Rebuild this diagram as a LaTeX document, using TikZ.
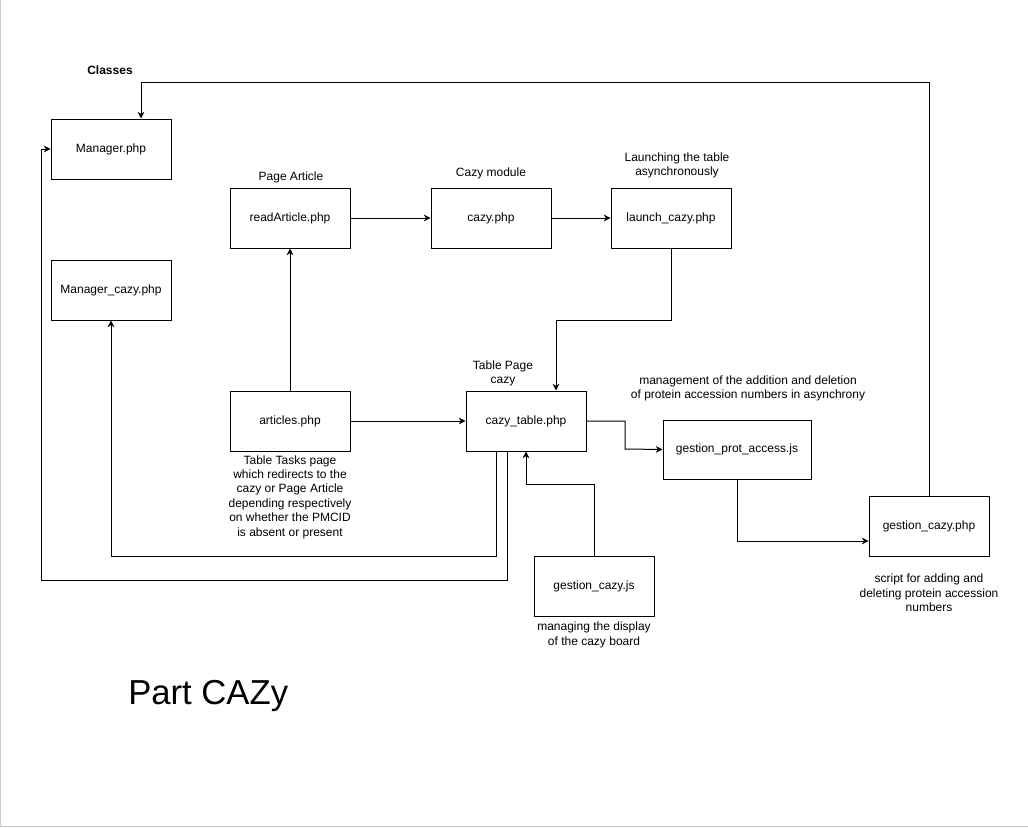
\documentclass[tikz,border=0pt]{standalone}
\usepackage{fontspec}
\setmainfont{Liberation Sans}
\usetikzlibrary{arrows.meta}
\begin{document}
\begin{tikzpicture}[x=0.75pt,y=-0.75pt,
  font=\fontsize{9}{10.8}\selectfont,
  box/.style={draw,line width=0.75pt,minimum width=90pt,minimum height=45pt,inner sep=0pt,align=center},
  lbl/.style={align=center,inner sep=0pt},
  conn/.style={line width=0.75pt,-{Stealth[length=5pt,width=5pt,inset=1.5pt]}},
  plain/.style={line width=0.75pt}]
\useasboundingbox (0,0) rectangle (1028,828);
\fill[white] (0,0) rectangle (1028,828);
\draw[gray!40,line width=0.75pt] (0.5,0) -- (0.5,826.5) -- (1028,826.5);
\fill[gray!8] (0,827) rectangle (1028,828);

% nodes
\node[box] (mgr) at (111,149) {Manager.php};
\node[box] (mgrc) at (111,290) {Manager\_cazy.php};
\node[box] (ra) at (290,218) {readArticle.php};
\node[box] (cz) at (491,218) {cazy.php};
\node[box] (lc) at (671,218) {launch\_cazy.php};
\node[box] (art) at (290,421) {articles.php};
\node[box] (ct) at (526,421) {cazy\_table.php};
\node[box,minimum width=111pt,minimum height=44.25pt] (gpa) at (737,449.5) {gestion\_prot\_access.js};
\node[box] (gcp) at (929,526) {gestion\_cazy.php};
\node[box] (gcj) at (594,586) {gestion\_cazy.js};

% labels
\node[lbl,font=\fontsize{9}{10.8}\selectfont\bfseries] (cls) at (110,70) {Classes};
\node[lbl] (lra) at (291,177) {Page Article};
\node[lbl] (lcz) at (491,173) {Cazy module};
\node[lbl] (llc) at (677,165.5) {Launching the table\\asynchronously};
\node[lbl] (lart) at (290,497) {Table Tasks page\\which redirects to the\\cazy or Page Article\\depending respectively\\on whether the PMCID\\is absent or present};
\node[lbl] (lct) at (503,373.5) {Table Page\\cazy};
\node[lbl] (lgpa) at (748,388.5) {management of the addition and deletion\\of protein accession numbers in asynchrony};
\node[lbl] (lgcp) at (929,593) {script for adding and\\deleting protein accession\\numbers};
\node[lbl] (lgcj) at (594,635) {managing the display\\of the cazy board};
\node[lbl,font=\fontsize{26}{30}\selectfont,anchor=west] (title) at (128,696) {Part CAZy};

% helper coordinates
\coordinate (c1) at (929,82);
\coordinate (c2) at (141,82);
\coordinate (c3) at (671,320);
\coordinate (c4) at (556,320);
\coordinate (c5) at (496,556);
\coordinate (c6) at (111,556);
\coordinate (c7) at (507,580);
\coordinate (c8) at (41,580);
\coordinate (c9) at (41,149);
\coordinate (c10) at (594,484);
\coordinate (c11) at (526,484);
\coordinate (c12) at (625,421);
\coordinate (c13) at (625,449);
\coordinate (c14) at (737,541);

% connectors
\draw[conn] (gcp.north) -- (c1) -- (c2) -- (c2 |- mgr.north);
\draw[conn] (ra.east) -- (cz.west);
\draw[conn] (cz.east) -- (lc.west);
\draw[conn] (lc.south) -- (c3) -- (c4) -- (c4 |- ct.north);
\draw[conn] (art.north) -- (ra.south);
\draw[conn] (art.east) -- (ct.west);
\draw[conn] (c5 |- ct.south) -- (c5) -- (c6) -- (mgrc.south);
\draw[conn] (c7 |- ct.south) -- (c7) -- (c8) -- (c9) -- (mgr.west);
\draw[conn] (gcj.north) -- (c10) -- (c11) -- (ct.south);
\draw[conn] (ct.east) -- (c12) -- (c13) -- (gpa.west);
\draw[conn] (gpa.south) -- (c14) -- (c14 -| gcp.west);
\end{tikzpicture}
\end{document}
